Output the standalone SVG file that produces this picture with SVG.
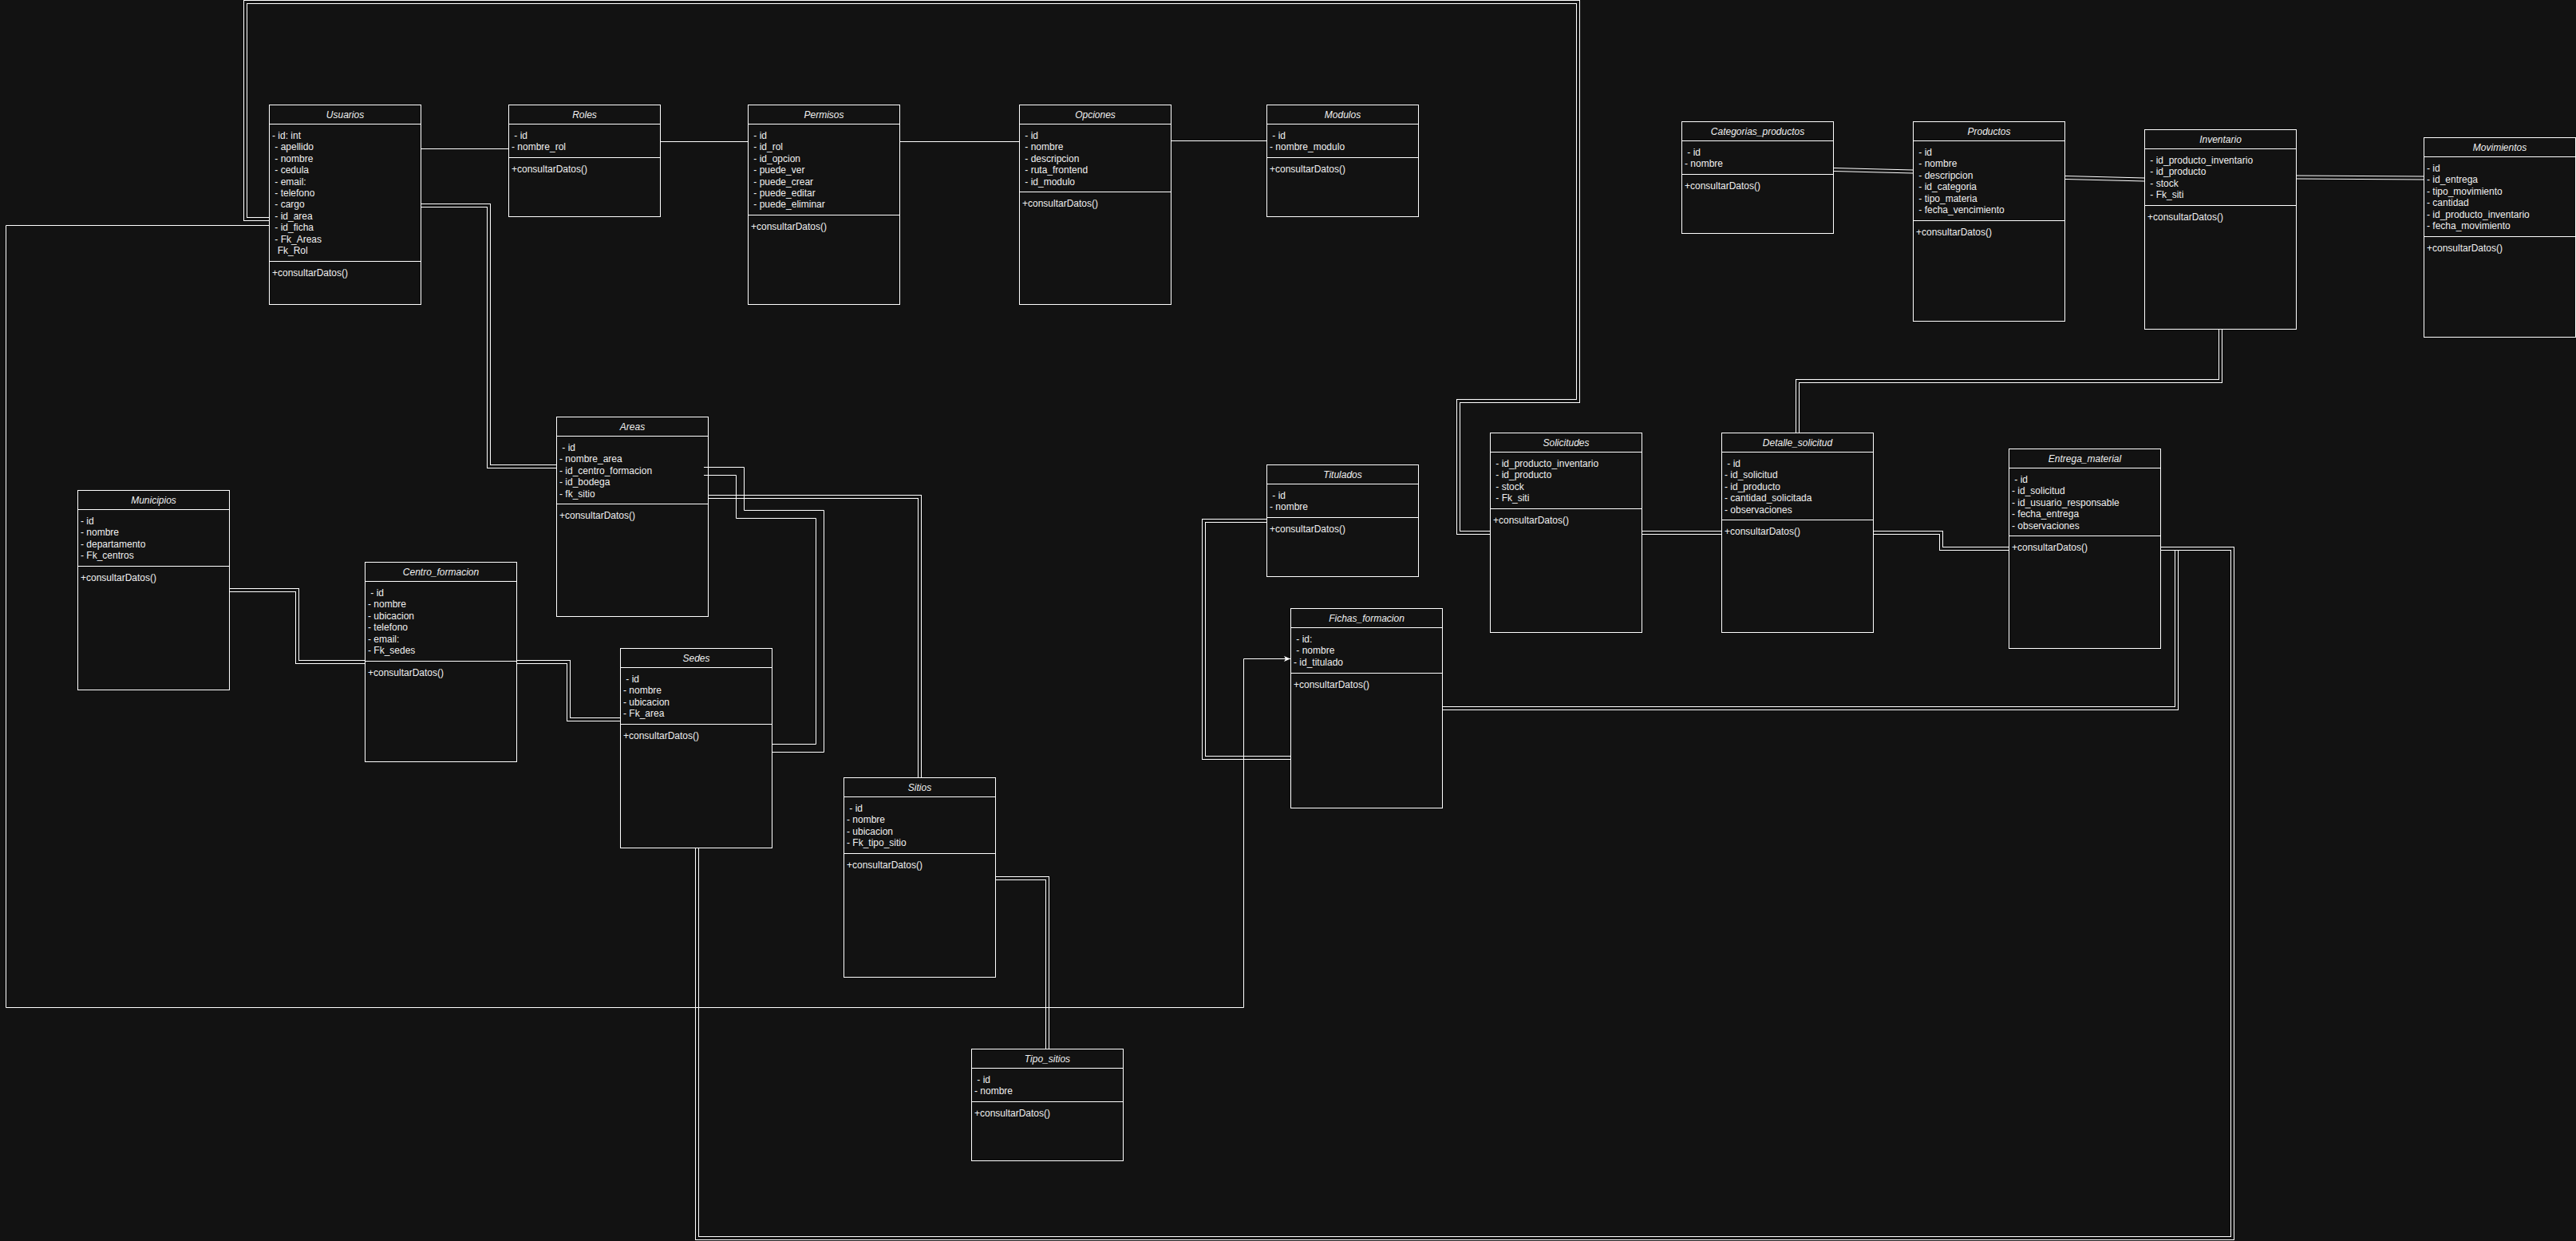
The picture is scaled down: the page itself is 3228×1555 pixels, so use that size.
<svg xmlns="http://www.w3.org/2000/svg" width="3228" height="1555" viewBox="0 0 3228 1555">
  <style>
    .bg { fill: #121212; }
    .box { fill: #121212; stroke: #ffffff; stroke-width: 1; }
    .sep { fill: none; stroke: #ffffff; stroke-width: 1; }
    .t { font-family: "Liberation Sans", Arial, Helvetica, sans-serif; font-size: 12px; fill: #f0f0f0; white-space: pre; }
    .title { font-style: italic; text-anchor: middle; }
    .lo { fill: none; stroke: #ffffff; stroke-width: 5; }
    .li { fill: none; stroke: #121212; stroke-width: 3; }
    .sl { fill: none; stroke: #ffffff; stroke-width: 1; }
  </style>
  <defs>
    <marker id="arrow" markerUnits="userSpaceOnUse" markerWidth="9" markerHeight="8" refX="8" refY="4" orient="auto">
      <path d="M0,0.5 L8,4 L0,7.5 L2,4 z" fill="#ffffff"/>
    </marker>
  </defs>

  <rect class="bg" x="0" y="0" width="3228" height="1555"/>

  <!-- class boxes -->
  <g id="nodes">
    <g id="usuarios" transform="translate(337.5,131.5)">
      <rect class="box" width="190" height="250"/>
      <path class="sep" d="M0 24H190M0 196H190"/>
      <text class="t title" x="95" y="16">Usuarios</text>
      <text class="t" y="42.5"><tspan x="3.5">- id: int</tspan><tspan x="3.5" dy="14.4"> - apellido</tspan><tspan x="3.5" dy="14.4"> - nombre</tspan><tspan x="3.5" dy="14.4"> - cedula</tspan><tspan x="3.5" dy="14.4"> - email:</tspan><tspan x="3.5" dy="14.4"> - telefono</tspan><tspan x="3.5" dy="14.4"> - cargo</tspan><tspan x="3.5" dy="14.4"> - id_area</tspan><tspan x="3.5" dy="14.4"> - id_ficha</tspan><tspan x="3.5" dy="14.4"> - Fk_Areas</tspan><tspan x="3.5" dy="14.4">  Fk_Rol</tspan></text>
      <text class="t" x="3.5" y="214.5">+consultarDatos()</text>
    </g>

    <g id="roles" transform="translate(637.5,131.5)">
      <rect class="box" width="190" height="140"/>
      <path class="sep" d="M0 24H190M0 66H190"/>
      <text class="t title" x="95" y="16">Roles</text>
      <text class="t" y="42.5"><tspan x="3.5"> - id</tspan><tspan x="3.5" dy="14.4">- nombre_rol</tspan></text>
      <text class="t" x="3.5" y="84.5">+consultarDatos()</text>
    </g>

    <g id="permisos" transform="translate(937.5,131.5)">
      <rect class="box" width="190" height="250"/>
      <path class="sep" d="M0 24H190M0 138H190"/>
      <text class="t title" x="95" y="16">Permisos</text>
      <text class="t" y="42.5"><tspan x="3.5"> - id</tspan><tspan x="3.5" dy="14.4"> - id_rol</tspan><tspan x="3.5" dy="14.4"> - id_opcion</tspan><tspan x="3.5" dy="14.4"> - puede_ver</tspan><tspan x="3.5" dy="14.4"> - puede_crear</tspan><tspan x="3.5" dy="14.4"> - puede_editar</tspan><tspan x="3.5" dy="14.4"> - puede_eliminar</tspan></text>
      <text class="t" x="3.5" y="156.5">+consultarDatos()</text>
    </g>

    <g id="opciones" transform="translate(1277.5,131.5)">
      <rect class="box" width="190" height="250"/>
      <path class="sep" d="M0 24H190M0 109H190"/>
      <text class="t title" x="95" y="16">Opciones</text>
      <text class="t" y="42.5"><tspan x="3.5"> - id</tspan><tspan x="3.5" dy="14.4"> - nombre</tspan><tspan x="3.5" dy="14.4"> - descripcion</tspan><tspan x="3.5" dy="14.4"> - ruta_frontend</tspan><tspan x="3.5" dy="14.4"> - id_modulo</tspan></text>
      <text class="t" x="3.5" y="127.5">+consultarDatos()</text>
    </g>

    <g id="modulos" transform="translate(1587.5,131.5)">
      <rect class="box" width="190" height="140"/>
      <path class="sep" d="M0 24H190M0 66H190"/>
      <text class="t title" x="95" y="16">Modulos</text>
      <text class="t" y="42.5"><tspan x="3.5"> - id</tspan><tspan x="3.5" dy="14.4">- nombre_modulo</tspan></text>
      <text class="t" x="3.5" y="84.5">+consultarDatos()</text>
    </g>

    <g id="categorias-productos" transform="translate(2107.5,152.5)">
      <rect class="box" width="190" height="140"/>
      <path class="sep" d="M0 24H190M0 66H190"/>
      <text class="t title" x="95" y="16">Categorias_productos</text>
      <text class="t" y="42.5"><tspan x="3.5"> - id</tspan><tspan x="3.5" dy="14.4">- nombre</tspan></text>
      <text class="t" x="3.5" y="84.5">+consultarDatos()</text>
    </g>

    <g id="productos" transform="translate(2397.5,152.5)">
      <rect class="box" width="190" height="250"/>
      <path class="sep" d="M0 24H190M0 124H190"/>
      <text class="t title" x="95" y="16">Productos</text>
      <text class="t" y="42.5"><tspan x="3.5"> - id</tspan><tspan x="3.5" dy="14.4"> - nombre</tspan><tspan x="3.5" dy="14.4"> - descripcion</tspan><tspan x="3.5" dy="14.4"> - id_categoria</tspan><tspan x="3.5" dy="14.4"> - tipo_materia</tspan><tspan x="3.5" dy="14.4"> - fecha_vencimiento</tspan></text>
      <text class="t" x="3.5" y="142.5">+consultarDatos()</text>
    </g>

    <g id="inventario" transform="translate(2687.5,162.5)">
      <rect class="box" width="190" height="250"/>
      <path class="sep" d="M0 24H190M0 95H190"/>
      <text class="t title" x="95" y="16">Inventario</text>
      <text class="t" y="42.5"><tspan x="3.5"> - id_producto_inventario</tspan><tspan x="3.5" dy="14.4"> - id_producto</tspan><tspan x="3.5" dy="14.4"> - stock</tspan><tspan x="3.5" dy="14.4"> - Fk_siti</tspan></text>
      <text class="t" x="3.5" y="113.5">+consultarDatos()</text>
    </g>

    <g id="movimientos" transform="translate(3037.5,172.5)">
      <rect class="box" width="190" height="250"/>
      <path class="sep" d="M0 24H190M0 124H190"/>
      <text class="t title" x="95" y="16">Movimientos</text>
      <text class="t" y="42.5"><tspan x="3.5">- id</tspan><tspan x="3.5" dy="14.4">- id_entrega</tspan><tspan x="3.5" dy="14.4">- tipo_movimiento</tspan><tspan x="3.5" dy="14.4">- cantidad</tspan><tspan x="3.5" dy="14.4">- id_producto_inventario</tspan><tspan x="3.5" dy="14.4">- fecha_movimiento</tspan></text>
      <text class="t" x="3.5" y="142.5">+consultarDatos()</text>
    </g>

    <g id="municipios" transform="translate(97.5,614.5)">
      <rect class="box" width="190" height="250"/>
      <path class="sep" d="M0 24H190M0 95H190"/>
      <text class="t title" x="95" y="16">Municipios</text>
      <text class="t" y="42.5"><tspan x="3.5">- id</tspan><tspan x="3.5" dy="14.4">- nombre</tspan><tspan x="3.5" dy="14.4">- departamento</tspan><tspan x="3.5" dy="14.4">- Fk_centros</tspan></text>
      <text class="t" x="3.5" y="113.5">+consultarDatos()</text>
    </g>

    <g id="centro-formacion" transform="translate(457.5,704.5)">
      <rect class="box" width="190" height="250"/>
      <path class="sep" d="M0 24H190M0 124H190"/>
      <text class="t title" x="95" y="16">Centro_formacion</text>
      <text class="t" y="42.5"><tspan x="3.5"> - id</tspan><tspan x="3.5" dy="14.4">- nombre</tspan><tspan x="3.5" dy="14.4">- ubicacion</tspan><tspan x="3.5" dy="14.4">- telefono</tspan><tspan x="3.5" dy="14.4">- email:</tspan><tspan x="3.5" dy="14.4">- Fk_sedes</tspan></text>
      <text class="t" x="3.5" y="142.5">+consultarDatos()</text>
    </g>

    <g id="areas" transform="translate(697.5,522.5)">
      <rect class="box" width="190" height="250"/>
      <path class="sep" d="M0 24H190M0 109H190"/>
      <text class="t title" x="95" y="16">Areas</text>
      <text class="t" y="42.5"><tspan x="3.5"> - id</tspan><tspan x="3.5" dy="14.4">- nombre_area</tspan><tspan x="3.5" dy="14.4">- id_centro_formacion</tspan><tspan x="3.5" dy="14.4">- id_bodega</tspan><tspan x="3.5" dy="14.4">- fk_sitio</tspan></text>
      <text class="t" x="3.5" y="127.5">+consultarDatos()</text>
    </g>

    <g id="sedes" transform="translate(777.5,812.5)">
      <rect class="box" width="190" height="250"/>
      <path class="sep" d="M0 24H190M0 95H190"/>
      <text class="t title" x="95" y="16">Sedes</text>
      <text class="t" y="42.5"><tspan x="3.5"> - id</tspan><tspan x="3.5" dy="14.4">- nombre</tspan><tspan x="3.5" dy="14.4">- ubicacion</tspan><tspan x="3.5" dy="14.4">- Fk_area</tspan></text>
      <text class="t" x="3.5" y="113.5">+consultarDatos()</text>
    </g>

    <g id="sitios" transform="translate(1057.5,974.5)">
      <rect class="box" width="190" height="250"/>
      <path class="sep" d="M0 24H190M0 95H190"/>
      <text class="t title" x="95" y="16">Sitios</text>
      <text class="t" y="42.5"><tspan x="3.5"> - id</tspan><tspan x="3.5" dy="14.4">- nombre</tspan><tspan x="3.5" dy="14.4">- ubicacion</tspan><tspan x="3.5" dy="14.4">- Fk_tipo_sitio</tspan></text>
      <text class="t" x="3.5" y="113.5">+consultarDatos()</text>
    </g>

    <g id="tipo-sitios" transform="translate(1217.5,1314.5)">
      <rect class="box" width="190" height="140"/>
      <path class="sep" d="M0 24H190M0 66H190"/>
      <text class="t title" x="95" y="16">Tipo_sitios</text>
      <text class="t" y="42.5"><tspan x="3.5"> - id</tspan><tspan x="3.5" dy="14.4">- nombre</tspan></text>
      <text class="t" x="3.5" y="84.5">+consultarDatos()</text>
    </g>

    <g id="titulados" transform="translate(1587.5,582.5)">
      <rect class="box" width="190" height="140"/>
      <path class="sep" d="M0 24H190M0 66H190"/>
      <text class="t title" x="95" y="16">Titulados</text>
      <text class="t" y="42.5"><tspan x="3.5"> - id</tspan><tspan x="3.5" dy="14.4">- nombre</tspan></text>
      <text class="t" x="3.5" y="84.5">+consultarDatos()</text>
    </g>

    <g id="fichas-formacion" transform="translate(1617.5,762.5)">
      <rect class="box" width="190" height="250"/>
      <path class="sep" d="M0 24H190M0 81H190"/>
      <text class="t title" x="95" y="16">Fichas_formacion</text>
      <text class="t" y="42.5"><tspan x="3.5"> - id:</tspan><tspan x="3.5" dy="14.4"> - nombre</tspan><tspan x="3.5" dy="14.4">- id_titulado</tspan></text>
      <text class="t" x="3.5" y="99.5">+consultarDatos()</text>
    </g>

    <g id="solicitudes" transform="translate(1867.5,542.5)">
      <rect class="box" width="190" height="250"/>
      <path class="sep" d="M0 24H190M0 95H190"/>
      <text class="t title" x="95" y="16">Solicitudes</text>
      <text class="t" y="42.5"><tspan x="3.5"> - id_producto_inventario</tspan><tspan x="3.5" dy="14.4"> - id_producto</tspan><tspan x="3.5" dy="14.4"> - stock</tspan><tspan x="3.5" dy="14.4"> - Fk_siti</tspan></text>
      <text class="t" x="3.5" y="113.5">+consultarDatos()</text>
    </g>

    <g id="detalle-solicitud" transform="translate(2157.5,542.5)">
      <rect class="box" width="190" height="250"/>
      <path class="sep" d="M0 24H190M0 109H190"/>
      <text class="t title" x="95" y="16">Detalle_solicitud</text>
      <text class="t" y="42.5"><tspan x="3.5"> - id</tspan><tspan x="3.5" dy="14.4">- id_solicitud</tspan><tspan x="3.5" dy="14.4">- id_producto</tspan><tspan x="3.5" dy="14.4">- cantidad_solicitada</tspan><tspan x="3.5" dy="14.4">- observaciones</tspan></text>
      <text class="t" x="3.5" y="127.5">+consultarDatos()</text>
    </g>

    <g id="entrega-material" transform="translate(2517.5,562.5)">
      <rect class="box" width="190" height="250"/>
      <path class="sep" d="M0 24H190M0 109H190"/>
      <text class="t title" x="95" y="16">Entrega_material</text>
      <text class="t" y="42.5"><tspan x="3.5"> - id</tspan><tspan x="3.5" dy="14.4">- id_solicitud</tspan><tspan x="3.5" dy="14.4">- id_usuario_responsable</tspan><tspan x="3.5" dy="14.4">- fecha_entrega</tspan><tspan x="3.5" dy="14.4">- observaciones</tspan></text>
      <text class="t" x="3.5" y="127.5">+consultarDatos()</text>
    </g>
  </g>

  <!-- relations: double lines are a wide white stroke with a background-coloured core -->
  <g id="connectors">
    <!-- Usuarios - Solicitudes (loop over the top) -->
    <path class="lo" d="M337 274.5H307.5V2.5H1977.5V502.5H1827.5V667.5H1867"/>
    <path class="li" d="M337 274.5H307.5V2.5H1977.5V502.5H1827.5V667.5H1867"/>
    <!-- Usuarios - Areas -->
    <path class="lo" d="M528 257.5H612.5V584.5H697"/>
    <path class="li" d="M528 257.5H612.5V584.5H697"/>
    <!-- Fichas_formacion - Entrega_material -->
    <path class="lo" d="M2708 687.5H2727.5V887.5H1808"/>
    <path class="li" d="M2708 687.5H2727.5V887.5H1808"/>
    <!-- Entrega_material - Sedes (around the bottom) -->
    <path class="lo" d="M2708 687.5H2797.5V1551.5H873.5V1063"/>
    <path class="li" d="M2708 687.5H2797.5V1551.5H873.5V1063"/>
    <!-- Areas - Sitios -->
    <path class="lo" d="M888 622.5H1152.5V974"/>
    <path class="li" d="M888 622.5H1152.5V974"/>
    <!-- Areas - Sedes (wide pair) -->
    <path class="sl" d="M882 585.5H932.5V639.5H1032.5V942.5H968"/>
    <path class="sl" d="M882 595.5H922.5V649.5H1022.5V932.5H968"/>
    <!-- Municipios - Centro_formacion -->
    <path class="lo" d="M288 739.5H372.5V829.5H457"/>
    <path class="li" d="M288 739.5H372.5V829.5H457"/>
    <!-- Centro_formacion - Sedes -->
    <path class="lo" d="M648 829.5H712.5V901.5H777"/>
    <path class="li" d="M648 829.5H712.5V901.5H777"/>
    <!-- Sitios - Tipo_sitios -->
    <path class="lo" d="M1248 1100.5H1312.5V1314"/>
    <path class="li" d="M1248 1100.5H1312.5V1314"/>
    <!-- Titulados - Fichas_formacion -->
    <path class="lo" d="M1587 652.5H1508.5V949.5H1617"/>
    <path class="li" d="M1587 652.5H1508.5V949.5H1617"/>
    <!-- Solicitudes - Detalle_solicitud -->
    <path class="lo" d="M2058 667.5H2157"/>
    <path class="li" d="M2058 667.5H2157"/>
    <!-- Detalle_solicitud - Entrega_material -->
    <path class="lo" d="M2348 667.5H2432.5V687.5H2517"/>
    <path class="li" d="M2348 667.5H2432.5V687.5H2517"/>
    <!-- Inventario - Detalle_solicitud -->
    <path class="lo" d="M2782.5 413V477.5H2252.5V542"/>
    <path class="li" d="M2782.5 413V477.5H2252.5V542"/>
    <!-- Categorias_productos - Productos -->
    <path class="lo" d="M2298 212.5L2397 215"/>
    <path class="li" d="M2298 212.5L2397 215"/>
    <!-- Productos - Inventario -->
    <path class="lo" d="M2588 222.5L2687 225"/>
    <path class="li" d="M2588 222.5L2687 225"/>
    <!-- Inventario - Movimientos -->
    <path class="lo" d="M2878 222L3037 223"/>
    <path class="li" d="M2878 222L3037 223"/>

    <!-- single associations along the top row -->
    <path class="sl" d="M528 186.5H637"/>
    <path class="sl" d="M828 177.5H937"/>
    <path class="sl" d="M1128 177.5H1277"/>
    <path class="sl" d="M1468 176.5H1587"/>

    <!-- Usuarios - Fichas_formacion (directed) -->
    <path class="sl" d="M337 282.5H7.5V1262.5H1558.5V825.5H1617" marker-end="url(#arrow)"/>
  </g>
</svg>
